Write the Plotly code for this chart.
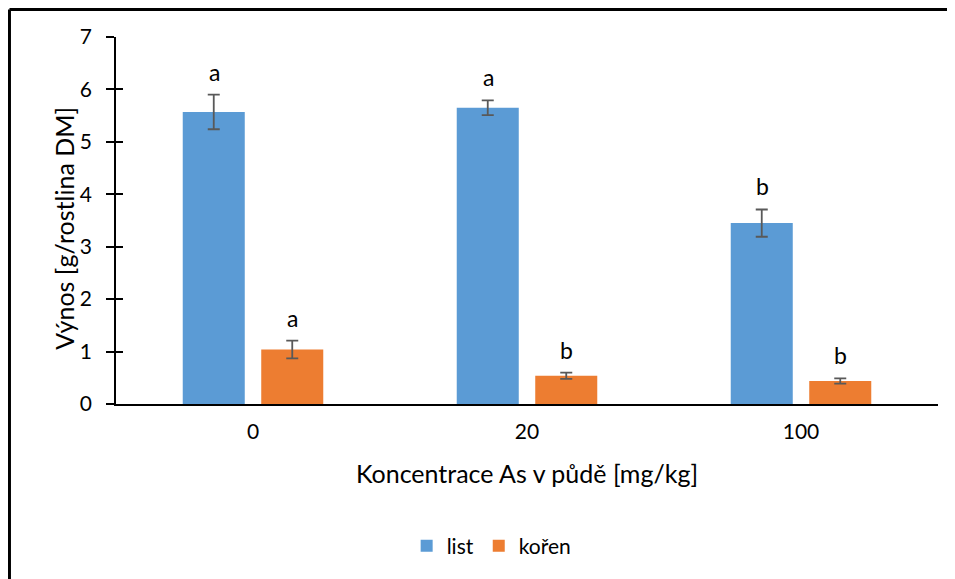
import plotly.graph_objects as go

categories = ["0", "20", "100"]
list_values = [5.57, 5.65, 3.45]
list_errors = [0.33, 0.14, 0.26]
koren_values = [1.04, 0.54, 0.44]
koren_errors = [0.17, 0.06, 0.05]
list_letters = ["a", "a", "b"]
koren_letters = ["a", "b", "b"]
y_ticks = [0, 1, 2, 3, 4, 5, 6, 7]

FONT = "Lato"
BLUE = "#5B9BD5"
ORANGE = "#ED7D31"
ERR = "#595959"

fig = go.Figure()
fig.add_trace(go.Bar(
    x=categories, y=list_values, name="list",
    marker=dict(color=BLUE, line=dict(width=0)),
    error_y=dict(type="data", array=list_errors, color=ERR, thickness=1.8, width=6),
))
fig.add_trace(go.Bar(
    x=categories, y=koren_values, name="kořen",
    marker=dict(color=ORANGE, line=dict(width=0)),
    error_y=dict(type="data", array=koren_errors, color=ERR, thickness=1.8, width=6),
))
# invisible trace to carry the crossing tick marks on an overlaid axis
fig.add_trace(go.Scatter(x=categories, y=list_values, yaxis="y2",
                         mode="none", showlegend=False, hoverinfo="skip"))

annotations = []
for i, (v, e, t) in enumerate(zip(list_values, list_errors, list_letters)):
    annotations.append(dict(x=i, y=v + e, text=t, xref="x", yref="y",
                            showarrow=False, xshift=-39, yshift=7, yanchor="bottom",
                            font=dict(family=FONT, size=23, color="black")))
for i, (v, e, t) in enumerate(zip(koren_values, koren_errors, koren_letters)):
    annotations.append(dict(x=i, y=v + e, text=t, xref="x", yref="y",
                            showarrow=False, xshift=39, yshift=7, yanchor="bottom",
                            font=dict(family=FONT, size=23, color="black")))
annotations.append(dict(text="Výnos [g/rostlina DM]", xref="paper", yref="paper",
                        x=-0.0633, y=0.48, xanchor="center", yanchor="middle",
                        textangle=-90, showarrow=False,
                        font=dict(family=FONT, size=25, color="black")))

fig.update_layout(
    width=947, height=571,
    margin=dict(l=108, r=17, t=29, b=175),
    paper_bgcolor="white", plot_bgcolor="white",
    font=dict(family=FONT, size=21, color="black"),
    barmode="group", bargap=0.427, bargroupgap=0.21,
    showlegend=True,
    legend=dict(orientation="h", x=0.457, xanchor="center", y=-0.387, yanchor="middle",
                font=dict(family=FONT, size=21, color="black"), itemwidth=30,
                traceorder="normal"),
    xaxis=dict(
        type="category", range=[-0.5, 2.5], showline=True, linecolor="black", linewidth=1.5,
        ticks="", showgrid=False, zeroline=False,
        tickfont=dict(family=FONT, size=21, color="black"),
        ticklabelstandoff=8,
        title=dict(text="Koncentrace As v půdě [mg/kg]",
                   font=dict(family=FONT, size=25, color="black"), standoff=24),
    ),
    yaxis=dict(
        range=[0, 7], tickvals=y_ticks, showline=True, linecolor="black", linewidth=1.5,
        ticks="outside", ticklen=8, tickwidth=1.5, tickcolor="black",
        showgrid=False, zeroline=False,
        tickfont=dict(family=FONT, size=21, color="black"),
        ticklabelstandoff=10,
    ),
    yaxis2=dict(
        range=[0, 7], tickvals=y_ticks, overlaying="y", side="left",
        showline=False, ticks="inside", ticklen=7, tickwidth=1.5, tickcolor="black",
        showticklabels=False, showgrid=False, zeroline=False,
    ),
    annotations=annotations,
    shapes=[
        dict(type="line", xref="paper", yref="paper",
             x0=-0.1296, x1=1.1, y0=1.075, y1=1.075,
             line=dict(color="black", width=3)),
        dict(type="line", xref="paper", yref="paper",
             x0=-0.1296, x1=-0.1296, y0=-0.6, y1=1.075,
             line=dict(color="black", width=3)),
    ],
)

fig.write_html("out.html")
